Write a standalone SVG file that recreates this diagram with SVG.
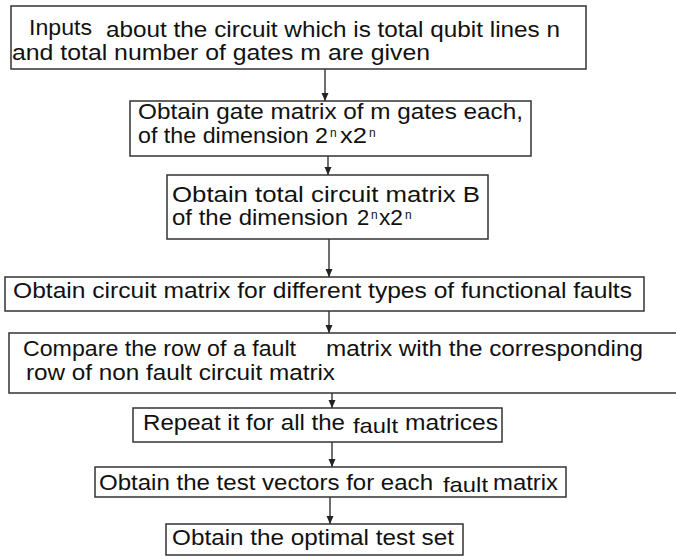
<svg xmlns="http://www.w3.org/2000/svg" width="676" height="556" viewBox="0 0 676 556">
<style>
.box{fill:#fff;stroke:#333;stroke-width:1.5}
text{font-family:"Liberation Sans",Arial,sans-serif;font-size:22px;fill:#111}
.sup{font-size:12px}
.fl{font-size:21px}
.conn line{stroke:#222;stroke-width:1.3}
</style>
<defs>
<marker id="ah" viewBox="0 0 8 10" refX="8" refY="5" markerWidth="8" markerHeight="10" markerUnits="userSpaceOnUse" orient="auto">
<path d="M0,1.5 L8,5 L0,8.5 Z" fill="#222"/>
</marker>
</defs>
<rect width="676" height="556" fill="#fff"/>
<g id="connectors" class="conn">
<line x1="325" y1="69" x2="325" y2="101" marker-end="url(#ah)"/>
<line x1="328" y1="156" x2="328" y2="175" marker-end="url(#ah)"/>
<line x1="329" y1="239" x2="329" y2="277" marker-end="url(#ah)"/>
<line x1="329" y1="311" x2="329" y2="333" marker-end="url(#ah)"/>
<line x1="332" y1="393" x2="332" y2="408" marker-end="url(#ah)"/>
<line x1="332" y1="442" x2="332" y2="467" marker-end="url(#ah)"/>
<line x1="330" y1="497" x2="330" y2="524" marker-end="url(#ah)"/>
</g>
<g id="n1">
<rect class="box" x="11" y="6" width="575" height="63"/>
<text x="29" y="35" textLength="63" lengthAdjust="spacingAndGlyphs">Inputs</text>
<text x="106" y="37" textLength="454" lengthAdjust="spacingAndGlyphs">about the circuit which is total qubit lines n</text>
<text x="12" y="60" textLength="418" lengthAdjust="spacingAndGlyphs">and total number of gates m  are given</text>
</g>
<g id="n2">
<rect class="box" x="130" y="101" width="401" height="55"/>
<text x="138" y="119" textLength="385" lengthAdjust="spacingAndGlyphs">Obtain gate matrix of m gates each,</text>
<text x="138" y="143" textLength="190" lengthAdjust="spacingAndGlyphs">of the dimension 2</text>
<text class="sup" x="330" y="137">n</text>
<text x="340" y="143" textLength="27" lengthAdjust="spacingAndGlyphs">x2</text>
<text class="sup" x="369" y="137">n</text>
</g>
<g id="n3">
<rect class="box" x="167" y="175" width="321" height="64"/>
<text x="172" y="202" textLength="308" lengthAdjust="spacingAndGlyphs">Obtain total circuit matrix B</text>
<text x="172" y="225" textLength="176" lengthAdjust="spacingAndGlyphs">of the dimension</text>
<text x="357" y="225">2</text>
<text class="sup" x="371" y="219">n</text>
<text x="379" y="225" textLength="24" lengthAdjust="spacingAndGlyphs">x2</text>
<text class="sup" x="405" y="219">n</text>
</g>
<g id="n4">
<rect class="box" x="5" y="277" width="639" height="34"/>
<text x="13" y="298" textLength="619" lengthAdjust="spacingAndGlyphs">Obtain circuit matrix for different types of functional faults</text>
</g>
<g id="n5">
<rect class="box" x="9" y="333" width="690" height="60"/>
<text x="23" y="356" textLength="273" lengthAdjust="spacingAndGlyphs">Compare the row of a fault</text>
<text x="326" y="356" textLength="317" lengthAdjust="spacingAndGlyphs">matrix with the corresponding</text>
<text x="26" y="380" textLength="309" lengthAdjust="spacingAndGlyphs">row of non fault  circuit matrix</text>
</g>
<g id="n6">
<rect class="box" x="133" y="408" width="369" height="34"/>
<text x="143" y="430" textLength="202" lengthAdjust="spacingAndGlyphs">Repeat it for all the</text>
<text class="fl" x="353" y="433" textLength="45" lengthAdjust="spacingAndGlyphs">fault</text>
<text x="405" y="430" textLength="93" lengthAdjust="spacingAndGlyphs">matrices</text>
</g>
<g id="n7">
<rect class="box" x="95" y="467" width="471" height="30"/>
<text x="99" y="490" textLength="334" lengthAdjust="spacingAndGlyphs">Obtain the test vectors for each</text>
<text class="fl" x="443" y="492" textLength="45" lengthAdjust="spacingAndGlyphs">fault</text>
<text x="493" y="490" textLength="65" lengthAdjust="spacingAndGlyphs">matrix</text>
</g>
<g id="n8">
<rect class="box" x="166" y="524" width="297" height="31"/>
<text x="172" y="545" textLength="282" lengthAdjust="spacingAndGlyphs">Obtain the optimal test set</text>
</g>
</svg>
